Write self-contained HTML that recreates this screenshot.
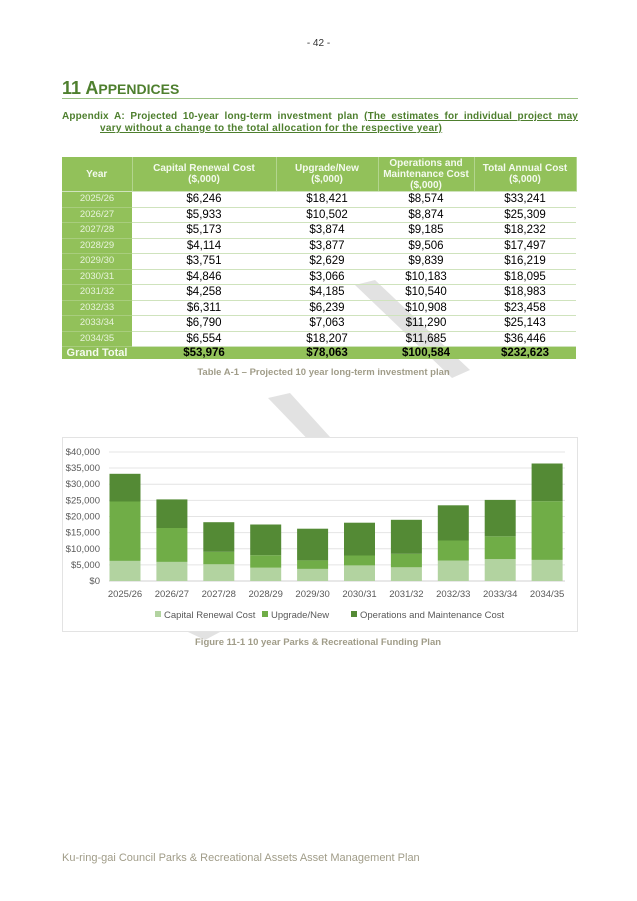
<!DOCTYPE html>
<html><head><meta charset="utf-8"><style>
body{margin:0;background:#fff;font-family:"Liberation Sans",sans-serif;}
.p{position:relative;width:637px;height:901px;overflow:hidden;}
.a{position:absolute;}
table{border-collapse:collapse;position:absolute;left:62px;top:157px;width:514px;table-layout:fixed;}
td{font-size:11.5px;text-align:center;padding:0;height:14.5px;line-height:14px;border-bottom:1px solid #cfe3bd;color:#000;overflow:hidden;}
td.y{background:#92c15a;color:#e8f3dc;font-size:9.5px;border-bottom:1px solid #a8cd7d;}
tr.h td{background:#92c15a;color:#f4faee;font-weight:bold;font-size:10px;height:34px;line-height:11px;border-right:1px solid #b3d58e;}
tr.g td{background:#92c15a;font-weight:bold;font-size:11.5px;height:12px;line-height:12px;border-bottom:none;}
tr.g td.y{color:#f4faee;font-size:11px;}
.j{text-align:justify;text-align-last:justify;}
</style></head><body><div class="p">
<div class="a" style="left:0;width:637px;top:38px;text-align:center;font-size:10px;color:#333">- 42 -</div>
<div class="a" style="left:62px;top:78px;font-size:18px;font-weight:bold;color:#4e7f2e">11 A<span style="font-size:14px">PPENDICES</span></div>
<div class="a" style="left:62px;top:98px;width:516px;height:1px;background:#9cc285"></div>
<div class="a j" style="left:62px;top:111px;width:516px;font-size:10px;font-weight:bold;color:#4e7f2e;line-height:12px;letter-spacing:0.15px">Appendix A: Projected 10-year long-term investment plan <u>(The estimates for individual project may</u></div>
<div class="a" style="left:100px;top:123px;font-size:10px;font-weight:bold;color:#4e7f2e;line-height:12px;letter-spacing:0.3px"><u>vary without a change to the total allocation for the respective year)</u></div>

<svg class="a" style="left:0;top:0" width="637" height="901">
<g fill="#e2e2e2"><polygon points="355,285 375,280 470,370 452,378"/><polygon points="268,398 290,393 340,448 320,452"/></g>
</svg>

<table>
<colgroup><col style="width:70px"><col style="width:144px"><col style="width:102px"><col style="width:96px"><col style="width:102px"></colgroup>
<tr class="h"><td>Year</td><td>Capital Renewal Cost<br>($,000)</td><td>Upgrade/New<br>($,000)</td><td>Operations and<br>Maintenance Cost<br>($,000)</td><td>Total Annual Cost<br>($,000)</td></tr>
<tr><td class="y">2025/26</td><td>$6,246</td><td>$18,421</td><td>$8,574</td><td>$33,241</td></tr>
<tr><td class="y">2026/27</td><td>$5,933</td><td>$10,502</td><td>$8,874</td><td>$25,309</td></tr>
<tr><td class="y">2027/28</td><td>$5,173</td><td>$3,874</td><td>$9,185</td><td>$18,232</td></tr>
<tr><td class="y">2028/29</td><td>$4,114</td><td>$3,877</td><td>$9,506</td><td>$17,497</td></tr>
<tr><td class="y">2029/30</td><td>$3,751</td><td>$2,629</td><td>$9,839</td><td>$16,219</td></tr>
<tr><td class="y">2030/31</td><td>$4,846</td><td>$3,066</td><td>$10,183</td><td>$18,095</td></tr>
<tr><td class="y">2031/32</td><td>$4,258</td><td>$4,185</td><td>$10,540</td><td>$18,983</td></tr>
<tr><td class="y">2032/33</td><td>$6,311</td><td>$6,239</td><td>$10,908</td><td>$23,458</td></tr>
<tr><td class="y">2033/34</td><td>$6,790</td><td>$7,063</td><td>$11,290</td><td>$25,143</td></tr>
<tr><td class="y">2034/35</td><td>$6,554</td><td>$18,207</td><td>$11,685</td><td>$36,446</td></tr>
<tr class="g"><td class="y">Grand Total</td><td>$53,976</td><td>$78,063</td><td>$100,584</td><td>$232,623</td></tr>
</table>
<div class="a" style="left:0;width:637px;top:367px;text-align:center;font-size:9.5px;font-weight:bold;color:#a09c88;padding-left:10px;box-sizing:border-box">Table A-1 – Projected 10 year long-term investment plan</div>

<svg class="a" style="left:0;top:0" width="637" height="901" font-family="Liberation Sans, sans-serif">
<rect x="62.5" y="437.5" width="515" height="194" fill="#fff" stroke="#e3e3e3"/>
<g stroke="#e4e4e4" stroke-width="1">
<line x1="109" x2="565" y1="452" y2="452"/><line x1="109" x2="565" y1="468" y2="468"/><line x1="109" x2="565" y1="484.3" y2="484.3"/><line x1="109" x2="565" y1="500.4" y2="500.4"/><line x1="109" x2="565" y1="516.5" y2="516.5"/><line x1="109" x2="565" y1="532.6" y2="532.6"/><line x1="109" x2="565" y1="548.8" y2="548.8"/><line x1="109" x2="565" y1="564.9" y2="564.9"/><line x1="109" x2="565" y1="581" y2="581" stroke="#d0d0d0"/>
</g>
<g font-size="9.5" fill="#595959" text-anchor="end">
<text x="100" y="455">$40,000</text><text x="100" y="471">$35,000</text><text x="100" y="487">$30,000</text><text x="100" y="503.5">$25,000</text><text x="100" y="519.5">$20,000</text><text x="100" y="535.5">$15,000</text><text x="100" y="552">$10,000</text><text x="100" y="568">$5,000</text><text x="100" y="584">$0</text>
</g>
<g>
<rect x="109.5" y="560.9" width="31" height="20.1" fill="#b2d3a0"/><rect x="109.5" y="501.5" width="31" height="59.4" fill="#70ad47"/><rect x="109.5" y="473.8" width="31" height="27.7" fill="#548a35"/>
<rect x="156.4" y="561.9" width="31" height="19.1" fill="#b2d3a0"/><rect x="156.4" y="528" width="31" height="33.9" fill="#70ad47"/><rect x="156.4" y="499.4" width="31" height="28.6" fill="#548a35"/>
<rect x="203.3" y="564.3" width="31" height="16.7" fill="#b2d3a0"/><rect x="203.3" y="551.8" width="31" height="12.5" fill="#70ad47"/><rect x="203.3" y="522.2" width="31" height="29.6" fill="#548a35"/>
<rect x="250.2" y="567.7" width="31" height="13.3" fill="#b2d3a0"/><rect x="250.2" y="555.2" width="31" height="12.5" fill="#70ad47"/><rect x="250.2" y="524.5" width="31" height="30.7" fill="#548a35"/>
<rect x="297.1" y="568.9" width="31" height="12.1" fill="#b2d3a0"/><rect x="297.1" y="560.4" width="31" height="8.5" fill="#70ad47"/><rect x="297.1" y="528.7" width="31" height="31.7" fill="#548a35"/>
<rect x="344" y="565.4" width="31" height="15.6" fill="#b2d3a0"/><rect x="344" y="555.5" width="31" height="9.9" fill="#70ad47"/><rect x="344" y="522.7" width="31" height="32.8" fill="#548a35"/>
<rect x="390.9" y="567.3" width="31" height="13.7" fill="#b2d3a0"/><rect x="390.9" y="553.8" width="31" height="13.5" fill="#70ad47"/><rect x="390.9" y="519.8" width="31" height="34" fill="#548a35"/>
<rect x="437.8" y="560.6" width="31" height="20.4" fill="#b2d3a0"/><rect x="437.8" y="540.5" width="31" height="20.1" fill="#70ad47"/><rect x="437.8" y="505.3" width="31" height="35.2" fill="#548a35"/>
<rect x="484.7" y="559.1" width="31" height="21.9" fill="#b2d3a0"/><rect x="484.7" y="536.3" width="31" height="22.8" fill="#70ad47"/><rect x="484.7" y="499.9" width="31" height="36.4" fill="#548a35"/>
<rect x="531.6" y="559.9" width="31" height="21.1" fill="#b2d3a0"/><rect x="531.6" y="501.2" width="31" height="58.7" fill="#70ad47"/><rect x="531.6" y="463.5" width="31" height="37.7" fill="#548a35"/>
</g>
<g font-size="9.5" fill="#595959" text-anchor="middle">
<text x="125" y="597">2025/26</text><text x="171.9" y="597">2026/27</text><text x="218.8" y="597">2027/28</text><text x="265.7" y="597">2028/29</text><text x="312.6" y="597">2029/30</text><text x="359.5" y="597">2030/31</text><text x="406.4" y="597">2031/32</text><text x="453.3" y="597">2032/33</text><text x="500.2" y="597">2033/34</text><text x="547.1" y="597">2034/35</text>
</g>
<g font-size="9.5" fill="#595959">
<rect x="155" y="611" width="6" height="6" fill="#b2d3a0"/><text x="164" y="618">Capital Renewal Cost</text>
<rect x="262" y="611" width="6" height="6" fill="#70ad47"/><text x="271" y="618">Upgrade/New</text>
<rect x="351" y="611" width="6" height="6" fill="#548a35"/><text x="360" y="618">Operations and Maintenance Cost</text>
</g>
<polygon points="188,632 220,632 205,640" fill="#e2e2e2"/>
</svg>
<div class="a" style="left:195px;top:637px;font-size:9.5px;font-weight:bold;color:#a09c88">Figure 11-1 10 year Parks &amp; Recreational Funding Plan</div>
<div class="a" style="left:62px;top:852px;font-size:11px;color:#a09c88">Ku-ring-gai Council Parks &amp; Recreational Assets Asset Management Plan</div>
</div></body></html>
